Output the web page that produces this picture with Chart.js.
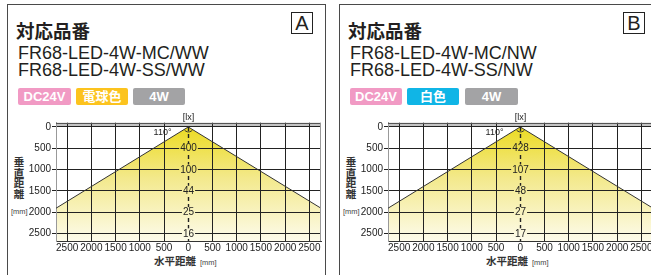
<!DOCTYPE html>
<html lang="ja">
<head>
<meta charset="utf-8">
<script src="https://cdn.jsdelivr.net/npm/chart.js@4.4.1/dist/chart.umd.min.js"></script>
<style>
  html, body { margin: 0; padding: 0; background: #fff; }
  body {
    width: 651px; height: 275px; overflow: hidden; position: relative;
    font-family: "Liberation Sans", Arial, "Noto Sans CJK JP", sans-serif; color: #231f20;
  }
  .panel { position: absolute; top: 0; width: 332px; height: 275px; }
  .frame {
    position: absolute; left: 6.5px; top: 3.5px; width: 317px; height: 300px;
    border: 1.5px solid #4a4a4a; border-bottom: none;
  }
  .ttl { position: absolute; left: 16px; top: 18px; font: bold 18.5px "Noto Sans CJK JP"; line-height: 24px; }
  .code { position: absolute; left: 18px; font-size: 18px; line-height: 18px; white-space: nowrap; }
  .badge {
    position: absolute; top: 87.5px; height: 17px; line-height: 17px; border-radius: 2px;
    color: #fff; font-weight: bold; font-size: 13px; text-align: center;
    font-family: "Liberation Sans", Arial, "Noto Sans CJK JP", sans-serif;
  }
  .mark {
    position: absolute; left: 291px; top: 12px; width: 20px; height: 20px;
    border: 1.5px solid #222; font-size: 20px; line-height: 20px; text-align: center;
  }
  .ytitle {
    position: absolute; left: 13px; top: 157px; width: 12px; text-align: center;
    font: bold 10.5px "Noto Sans CJK JP"; line-height: 10.5px; color: #333;
  }
  .unit { position: absolute; font-size: 7.5px; line-height: 9px; color: #444; }
  .xtitle { position: absolute; left: 154px; top: 254px; font: bold 10.5px "Noto Sans CJK JP"; line-height: 14px; color: #333; }
  canvas { position: absolute; left: 0; top: 108px; }
</style>
</head>
<body>

<div class="panel" style="left:0">
  <div class="frame"></div>
  <div class="ttl">対応品番</div>
  <div class="code" style="top:44px">FR68-LED-4W-MC/WW</div>
  <div class="code" style="top:61px">FR68-LED-4W-SS/WW</div>
  <div class="badge" style="left:18px;width:53px;background:#f19ac4">DC24V</div>
  <div class="badge" style="left:76px;width:52px;background:#fcc31e">電球色</div>
  <div class="badge" style="left:133px;width:52px;background:#a3a3a5">4W</div>
  <div class="mark">A</div>
  <div class="ytitle">垂<br>直<br>距<br>離</div>
  <div class="unit" style="left:11px;top:207px">[mm]</div>
  <div class="xtitle">水平距離</div>
  <div class="unit" style="left:200px;top:258px">[mm]</div>
  <canvas id="chartA" width="330" height="167"></canvas>
</div>

<div class="panel" style="left:332px">
  <div class="frame"></div>
  <div class="ttl">対応品番</div>
  <div class="code" style="top:44px">FR68-LED-4W-MC/NW</div>
  <div class="code" style="top:61px">FR68-LED-4W-SS/NW</div>
  <div class="badge" style="left:18px;width:52px;background:#f19ac4">DC24V</div>
  <div class="badge" style="left:75px;width:52px;background:#10b5e6">白色</div>
  <div class="badge" style="left:133px;width:53px;background:#a3a3a5">4W</div>
  <div class="mark">B</div>
  <div class="ytitle">垂<br>直<br>距<br>離</div>
  <div class="unit" style="left:11px;top:207px">[mm]</div>
  <div class="xtitle">水平距離</div>
  <div class="unit" style="left:200px;top:258px">[mm]</div>
  <canvas id="chartB" width="330" height="167"></canvas>
</div>

<script>
/* --------------------------------------------
   Datos
-------------------------------------------- */
const xTicks = [-2500, -2000, -1500, -1000, -500, 0, 500, 1000, 1500, 2000, 2500];
const yTicks = [0, 500, 1000, 1500, 2000, 2500];

// borde del haz 110°: vértice en (0,0), llega al borde del área a ~1910 mm
const beamX = [-2730, 0, 2740];
const beamY = [1910, 0, 1910];

// iluminancia [lx] en el eje central
const luxDepth = [500, 1000, 1500, 2000, 2500];
const luxA = [400, 100, 44, 25, 16];
const luxB = [428, 107, 48, 27, 17];

const xMin = -2730, xMax = 2740;
const yMin = -100, yMax = 2680;

Chart.defaults.font.family = "'Liberation Sans', Arial, sans-serif";
Chart.defaults.color = "#222";

/* Degradado amarillo del haz */
function beamGradient(chart) {
    const a = chart.chartArea;
    const y0 = chart.scales.y.getPixelForValue(0);
    const g = chart.ctx.createLinearGradient(0, y0, 0, a.bottom);
    g.addColorStop(0, "#ecdb22");
    g.addColorStop(0.45, "#f3e98c");
    g.addColorStop(1, "#fdfbea");
    return g;
}

/* --------------------------------------------
   Plugin: banda gris, eje central, etiquetas lx
-------------------------------------------- */
const beamPlugin = {
    id: "beam",
    beforeDraw(chart) {
        const { ctx, chartArea: a, scales: { y } } = chart;
        ctx.save();
        ctx.fillStyle = "#c4c4c4";
        ctx.fillRect(a.left, a.top, a.right - a.left, y.getPixelForValue(0) - a.top);
        ctx.restore();
    },
    afterDatasetsDraw(chart, args, opts) {
        const { ctx, chartArea: a, scales: { x, y } } = chart;
        const cx = Math.round(x.getPixelForValue(0)) + 0.5;
        const y0 = y.getPixelForValue(0);

        ctx.save();
        // marco superior y derecho
        ctx.strokeStyle = "#555";
        ctx.lineWidth = 1;
        ctx.beginPath();
        ctx.moveTo(a.left, Math.round(a.top) + 0.5);
        ctx.lineTo(a.right, Math.round(a.top) + 0.5);
        ctx.stroke();
        ctx.strokeStyle = "#999";
        ctx.beginPath();
        ctx.moveTo(Math.round(a.right) - 0.5, a.top);
        ctx.lineTo(Math.round(a.right) - 0.5, a.bottom);
        ctx.stroke();

        // eje central discontinuo
        ctx.strokeStyle = "#222";
        ctx.lineWidth = 1.4;
        ctx.setLineDash([4, 3]);
        ctx.beginPath();
        ctx.moveTo(cx, y0);
        ctx.lineTo(cx, a.bottom);
        ctx.stroke();
        ctx.setLineDash([]);

        // arco del ángulo
        ctx.lineWidth = 1;
        ctx.strokeStyle = "#333";
        ctx.beginPath();
        ctx.arc(cx, y0, 5, Math.PI * 35 / 180, Math.PI * 145 / 180);
        ctx.stroke();

        // textos
        ctx.fillStyle = "#222";
        ctx.textBaseline = "middle";
        ctx.font = "9px 'Liberation Sans', Arial";
        ctx.textAlign = "right";
        ctx.fillText("110°", cx - 17, y0 + 6);
        ctx.textAlign = "center";
        ctx.fillText("[lx]", cx, a.top - 5);

        ctx.font = "10px 'Liberation Sans', Arial";
        const grad = beamGradient(chart);
        opts.lux.forEach((v, i) => {
            const py = y.getPixelForValue(luxDepth[i]);
            const t = String(v);
            const w = ctx.measureText(t).width + 2;
            ctx.fillStyle = grad;
            ctx.fillRect(cx - w / 2, py - 5, w, 10);
            ctx.fillStyle = "#222";
            ctx.fillText(t, cx, py + 0.5);
        });
        ctx.restore();
    }
};

/* --------------------------------------------
   Gráfico de distribución del haz
-------------------------------------------- */
function renderBeam(id, lux) {
    const el = document.getElementById(id);
    if (!el) return;
    new Chart(el, {
        type: "line",
        data: {
            datasets: [{
                data: beamX.map((v, i) => ({ x: v, y: beamY[i] })),
                borderColor: "#333",
                borderWidth: 1,
                pointRadius: 0,
                tension: 0,
                fill: { value: yMax },
                backgroundColor: (c) => c.chart.chartArea ? beamGradient(c.chart) : "transparent"
            }]
        },
        options: {
            responsive: false,
            animation: false,
            devicePixelRatio: 1,
            events: [],
            layout: { padding: { top: 14.7, right: 9, left: 0, bottom: 0 } },
            plugins: {
                legend: { display: false },
                tooltip: { enabled: false },
                filler: { drawTime: "beforeDraw" },
                beam: { lux: lux }
            },
            scales: {
                x: {
                    type: "linear",
                    min: xMin,
                    max: xMax,
                    afterBuildTicks: (s) => { s.ticks = xTicks.map(v => ({ value: v })); },
                    afterFit: (s) => { s.height = 34; },
                    ticks: {
                        callback: (v) => String(Math.abs(v)),
                        font: { size: 10 },
                        color: "#222",
                        padding: 1,
                        maxRotation: 0,
                        autoSkip: false
                    },
                    grid: {
                        color: (c) => (c.tick && c.tick.value === 0) ? "rgba(0,0,0,0)" : "#222",
                        drawTicks: false,
                        tickLength: 0
                    },
                    border: { color: "#333", width: 1 }
                },
                y: {
                    type: "linear",
                    reverse: true,
                    min: yMin,
                    max: yMax,
                    afterBuildTicks: (s) => { s.ticks = yTicks.map(v => ({ value: v })); },
                    afterFit: (s) => { s.width = 56; },
                    ticks: {
                        callback: (v) => String(v),
                        font: { size: 10 },
                        color: "#222",
                        padding: 1,
                        autoSkip: false
                    },
                    grid: { color: "#222", tickLength: 4 },
                    border: { color: "#999", width: 1 }
                }
            }
        },
        plugins: [beamPlugin]
    });
}

renderBeam("chartA", luxA);
renderBeam("chartB", luxB);
</script>
</body>
</html>
